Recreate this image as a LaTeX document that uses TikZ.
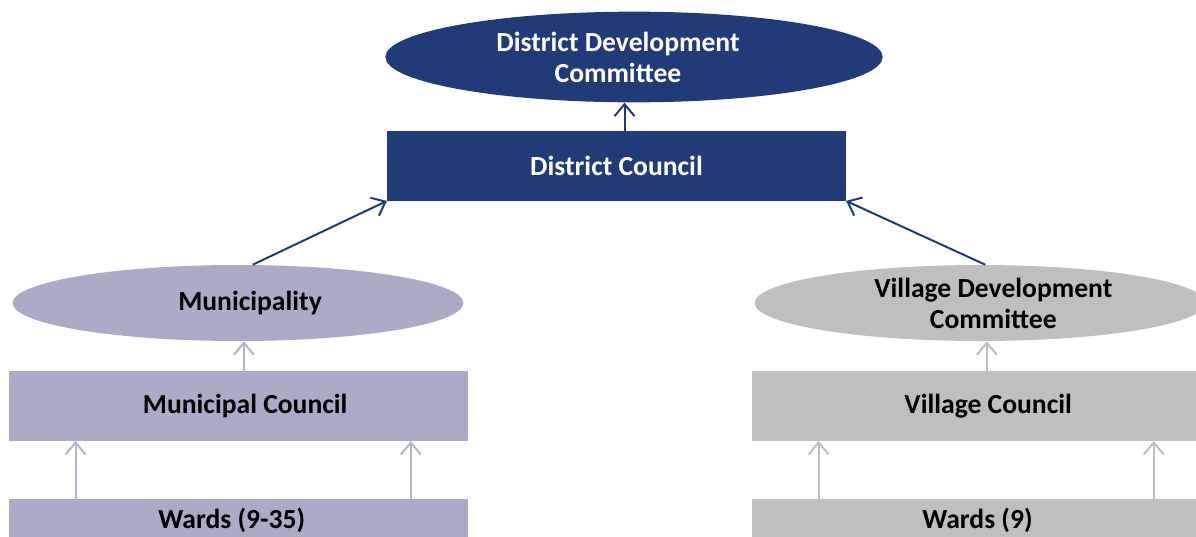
\documentclass[tikz,border=0pt]{standalone}
\usepackage{fontspec}
\setmainfont{Carlito}
\usetikzlibrary{shapes.geometric,arrows.meta}
\definecolor{navy}{RGB}{32,59,120}
\definecolor{lavender}{RGB}{171,171,199}
\definecolor{lavline}{RGB}{180,180,206}
\definecolor{greybox}{RGB}{191,191,191}

\begin{document}
\begin{tikzpicture}[x=0.75pt, y=-0.75pt,
  every node/.style={font=\fontsize{20.7}{23.25}\selectfont\bfseries, align=center, inner sep=0pt},
  up/.style={-{Straight Barb[length=9pt,width=15pt]}, line width=1.5pt}]
\useasboundingbox (0,0) rectangle (1196,536);
\node  (ddc)[ellipse, fill=navy, minimum width=373pt, minimum height=68pt,
  label={[text=white, xshift=-12pt]center:District Development\\Committee}] at (634,57) {};
\node  (dc)[rectangle, fill=navy, text=white, minimum width=344pt, minimum height=52pt] at (616.5,166) {District Council};
\node  (muni)[ellipse, fill=lavender, minimum width=338pt, minimum height=57pt,
  label={[xshift=9pt]center:Municipality}] at (238,303) {};
\node  (mc)[rectangle, fill=lavender, minimum width=344pt, minimum height=52pt,
  label={[xshift=5pt]center:Municipal Council}] at (238.5,406) {};
\node  (w1)[rectangle, fill=lavender, minimum width=344pt, minimum height=31pt,
  label={[xshift=-5pt]center:Wards (9-35)}] at (238.5,520) {};
\node  (vdc)[ellipse, fill=greybox, minimum width=338pt, minimum height=57pt,
  label={[xshift=10pt]center:Village Development\\Committee}] at (980,303) {};
\node  (vc)[rectangle, fill=greybox, minimum width=344pt, minimum height=52pt,
  label={[xshift=5pt]center:Village Council}] at (981.5,406) {};
\node  (w2)[rectangle, fill=greybox, minimum width=344pt, minimum height=31pt,
  label={[xshift=-3pt]center:Wards (9)}] at (981.5,520) {};
\draw[up, navy] ([xshift=6pt]dc.north) -- ([xshift=6pt]dc.north |- ddc.south);
\draw[up, navy] ([xshift=11pt]muni.north) -- (dc.south west);
\draw[up, navy] ([xshift=4pt]vdc.north) -- (dc.south east);
\draw[up, lavline] ([xshift=4pt]mc.north) -- ([xshift=4pt]mc.north |- muni.south);
\draw[up, lavline] ([xshift=50pt]w1.north west) -- ([xshift=50pt]mc.south west);
\draw[up, lavline] ([xshift=-43pt]w1.north east) -- ([xshift=-43pt]mc.south east);
\draw[up, greybox] ([xshift=4pt]vc.north) -- ([xshift=4pt]vc.north |- vdc.south);
\draw[up, greybox] ([xshift=50pt]w2.north west) -- ([xshift=50pt]vc.south west);
\draw[up, greybox] ([xshift=-43pt]w2.north east) -- ([xshift=-43pt]vc.south east);
\end{tikzpicture}
\end{document}
